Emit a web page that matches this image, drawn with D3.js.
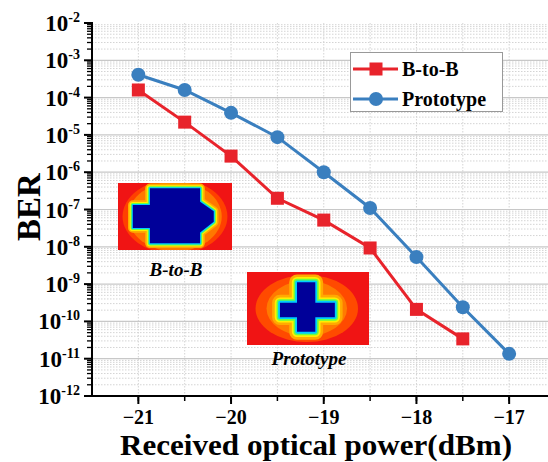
<!DOCTYPE html>
<html>
<head>
<meta charset="utf-8">
<script src="https://cdn.jsdelivr.net/npm/d3@7"></script>
<style>
  body { margin: 0; background: #fff; }
  svg { display: block; }
</style>
</head>
<body>
<script>
// received optical power (dBm)
const powerB2B = [-21, -20.5, -20, -19.5, -19, -18.5, -18, -17.5];
const berB2B = [1.6e-4, 2.2e-5, 2.7e-6, 2.0e-7, 5.2e-8, 9.3e-9, 2.1e-10, 3.4e-11];
const powerProto = [-21, -20.5, -20, -19.5, -19, -18.5, -18, -17.5, -17];
const berProto = [4.1e-4, 1.6e-4, 3.9e-5, 8.7e-6, 1.0e-6, 1.1e-7, 5.3e-9, 2.4e-10, 1.35e-11];
const xTicks = [-21, -20, -19, -18, -17];
const yExps = [-2, -3, -4, -5, -6, -7, -8, -9, -10, -11, -12];
const seriesNames = ["B-to-B", "Prototype"];

const W = 548, H = 462;
const font = "'Liberation Serif', 'Times New Roman', serif";
const red = "#e8232b", blue = "#3a7fbf";

const svg = d3.select("body").append("svg")
    .attr("width", W)
    .attr("height", H)
    .attr("font-family", font);

var x = d3.scaleLinear().domain([-21.5, -16.5]).range([92, 555.5]);
var y = d3.scaleLog().domain([1e-12, 1e-2]).range([396, 23]);

// grid
const grid = svg.append("g");
var minorY = [];
for (var e = -12; e < -2; e++) {
  for (var m = 2; m <= 9; m++) minorY.push(m * Math.pow(10, e));
}
grid.selectAll(".ym").data(minorY).join("line")
    .attr("x1", 92).attr("x2", W)
    .attr("y1", d => y(d)).attr("y2", d => y(d))
    .attr("stroke", "#d4d4d4").attr("stroke-width", 1)
    .attr("stroke-dasharray", "1.5,1.5");
var halfX = d3.range(-21.5, -16.4, 0.5);
grid.selectAll(".xg").data(halfX.slice(1)).join("line")
    .attr("x1", d => x(d)).attr("x2", d => x(d))
    .attr("y1", 23).attr("y2", 396)
    .attr("stroke", "#d4d4d4").attr("stroke-width", 1)
    .attr("stroke-dasharray", "1.5,1.5");
grid.selectAll(".yM").data(yExps.slice(1, -1)).join("line")
    .attr("x1", 92).attr("x2", W)
    .attr("y1", d => y(Math.pow(10, d))).attr("y2", d => y(Math.pow(10, d)))
    .attr("stroke", "#c8c8c8").attr("stroke-width", 1.2);

// insets (colour maps)
const jet = [
  {c: "#ffaa00", o: 6}, {c: "#ffee00", o: 4}, {c: "#66ff44", o: 2.6},
  {c: "#00ccff", o: 1.4}, {c: "#000099", o: 0}
];
function inset(id, x0, y0, w, h, blobs, cross, rings) {
  const g = svg.append("g");
  g.append("clipPath").attr("id", id).append("rect")
      .attr("x", x0).attr("y", y0).attr("width", w).attr("height", h);
  g.append("rect").attr("x", x0).attr("y", y0).attr("width", w).attr("height", h)
      .attr("fill", "#f01414");
  const line = d3.line().x(d => x0 + d[0] * w).y(d => y0 + d[1] * h);
  const inner = g.append("g").attr("clip-path", `url(#${id})`);
  blobs.forEach(function(b) {
    inner.append("ellipse")
        .attr("cx", x0 + b.cx * w).attr("cy", y0 + b.cy * h)
        .attr("rx", b.rx * w).attr("ry", b.ry * h).attr("fill", b.c);
  });
  jet.forEach(function(j) {
    inner.append("path")
        .attr("d", line(cross) + "Z")
        .attr("fill", j.c).attr("stroke", j.c)
        .attr("stroke-width", 2 * j.o * rings)
        .attr("stroke-linejoin", "round");
  });
}
inset("clipA", 118, 183, 114, 67, [
  {cx: 0.5, cy: 0.5, rx: 0.46, ry: 0.56, c: "#ff4000"},
  {cx: 0.5, cy: 0.5, rx: 0.41, ry: 0.52, c: "#ff7800"}
], [
  [0.28, 0.08], [0.72, 0.08], [0.72, 0.28], [0.84, 0.42], [0.84, 0.58],
  [0.72, 0.74], [0.72, 0.9], [0.28, 0.9], [0.28, 0.67], [0.13, 0.67],
  [0.13, 0.33], [0.28, 0.33]
], 0.8);
inset("clipB", 247, 272, 122, 73, [
  {cx: 0.49, cy: 0.5, rx: 0.42, ry: 0.46, c: "#ff4a00"},
  {cx: 0.49, cy: 0.5, rx: 0.33, ry: 0.38, c: "#ff7a00"}
], [
  [0.41, 0.14], [0.56, 0.14], [0.56, 0.42], [0.72, 0.42], [0.72, 0.62],
  [0.56, 0.62], [0.56, 0.82], [0.41, 0.82], [0.41, 0.62], [0.27, 0.62],
  [0.27, 0.42], [0.41, 0.42]
], 1.3);

svg.append("text").attr("x", 176).attr("y", 276)
    .attr("text-anchor", "middle").attr("font-size", 19)
    .attr("font-weight", "bold").attr("font-style", "italic").text(seriesNames[0]);
svg.append("text").attr("x", 309).attr("y", 365)
    .attr("text-anchor", "middle").attr("font-size", 19)
    .attr("font-weight", "bold").attr("font-style", "italic").text(seriesNames[1]);

// axes
const yAxis = svg.append("g");
yAxis.selectAll(".ymt").data(minorY).join("line")
    .attr("x1", 87).attr("x2", 92)
    .attr("y1", d => y(d)).attr("y2", d => y(d))
    .attr("stroke", "#000").attr("stroke-width", 1.3);
yAxis.selectAll(".yMt").data(yExps).join("line")
    .attr("x1", 84).attr("x2", 92)
    .attr("y1", d => y(Math.pow(10, d))).attr("y2", d => y(Math.pow(10, d)))
    .attr("stroke", "#000").attr("stroke-width", 2);
const lab = yAxis.selectAll(".yl").data(yExps).join("text")
    .attr("x", 80).attr("y", d => y(Math.pow(10, d)) + 8)
    .attr("text-anchor", "end").attr("font-weight", "bold").attr("font-size", 23);
lab.append("tspan").text("10");
lab.append("tspan").attr("dy", -9).attr("font-size", 14).text(d => d);
yAxis.append("line").attr("x1", 92).attr("x2", 92).attr("y1", 22).attr("y2", 397)
    .attr("stroke", "#000").attr("stroke-width", 2);

const xAxis = svg.append("g");
xAxis.selectAll(".xmt").data(halfX.slice(1)).join("line")
    .attr("x1", d => x(d)).attr("x2", d => x(d))
    .attr("y1", 396).attr("y2", 401)
    .attr("stroke", "#000").attr("stroke-width", 1.5);
xAxis.selectAll(".xMt").data(xTicks).join("line")
    .attr("x1", d => x(d)).attr("x2", d => x(d))
    .attr("y1", 396).attr("y2", 404)
    .attr("stroke", "#000").attr("stroke-width", 2);
xAxis.selectAll(".xl").data(xTicks).join("text")
    .attr("x", d => x(d)).attr("y", 424)
    .attr("text-anchor", "middle").attr("font-weight", "bold").attr("font-size", 20)
    .text(d => "\u2212" + Math.abs(d));
xAxis.append("line").attr("x1", 91).attr("x2", W).attr("y1", 396).attr("y2", 396)
    .attr("stroke", "#000").attr("stroke-width", 2);

svg.append("text").attr("x", 316).attr("y", 455)
    .attr("text-anchor", "middle").attr("font-weight", "bold").attr("font-size", 30)
    .attr("textLength", 392).attr("lengthAdjust", "spacingAndGlyphs")
    .text("Received optical power(dBm)");
svg.append("text").attr("transform", "translate(40,207) rotate(-90)")
    .attr("text-anchor", "middle").attr("font-weight", "bold").attr("font-size", 33)
    .text("BER");

// series
const line = d3.line().x(d => x(d[0])).y(d => y(d[1]));
const b2b = d3.zip(powerB2B, berB2B);
const proto = d3.zip(powerProto, berProto);

svg.append("path").attr("d", line(b2b)).attr("fill", "none")
    .attr("stroke", red).attr("stroke-width", 3);
svg.selectAll(".sq").data(b2b).join("rect")
    .attr("x", d => x(d[0]) - 6.5).attr("y", d => y(d[1]) - 6.5)
    .attr("width", 13).attr("height", 13).attr("fill", red);

svg.append("path").attr("d", line(proto)).attr("fill", "none")
    .attr("stroke", blue).attr("stroke-width", 3);
svg.selectAll(".ci").data(proto).join("circle")
    .attr("cx", d => x(d[0])).attr("cy", d => y(d[1]))
    .attr("r", 7).attr("fill", blue);

// legend
const leg = svg.append("g");
leg.append("rect").attr("x", 350.5).attr("y", 52.5).attr("width", 152).attr("height", 59)
    .attr("fill", "#fff").attr("stroke", "#999").attr("stroke-width", 1);
[[red, 69], [blue, 99]].forEach(function(s, i) {
  leg.append("line").attr("x1", 353).attr("x2", 398).attr("y1", s[1]).attr("y2", s[1])
      .attr("stroke", s[0]).attr("stroke-width", 3);
  if (i == 0) {
    leg.append("rect").attr("x", 369.5).attr("y", s[1] - 6.5).attr("width", 13).attr("height", 13)
        .attr("fill", s[0]);
  } else {
    leg.append("circle").attr("cx", 376).attr("cy", s[1]).attr("r", 7).attr("fill", s[0]);
  }
  leg.append("text").attr("x", 402).attr("y", s[1] + 7)
      .attr("font-weight", "bold").attr("font-size", 20).text(seriesNames[i]);
});
</script>
</body>
</html>
